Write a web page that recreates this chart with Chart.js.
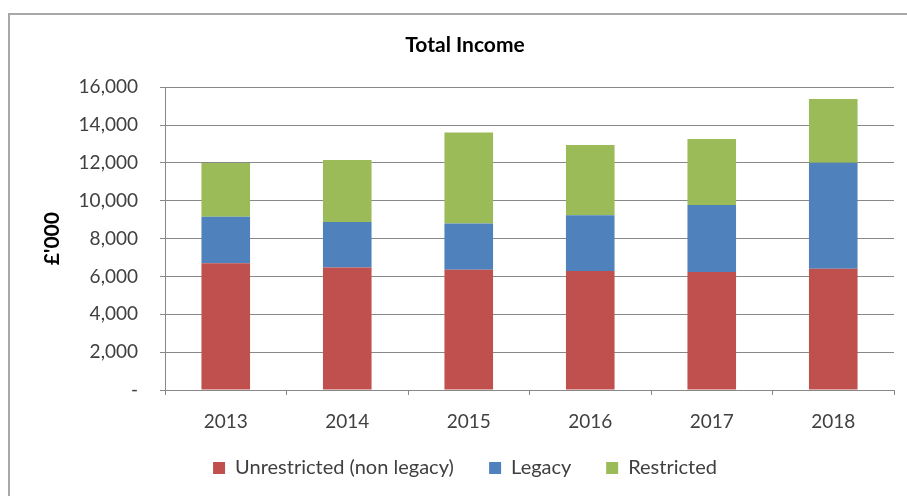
<!DOCTYPE html>
<html>
<head>
<meta charset="utf-8">
<title>Total Income</title>
<script src="https://cdn.jsdelivr.net/npm/chart.js@4.4.1/dist/chart.umd.min.js"></script>
<style>
  html, body { margin: 0; padding: 0; background: #fff; overflow: hidden; }
  #frame {
    position: absolute; left: 8px; top: 13px;
    width: 930px; height: 520px;
    border: 2px solid #a8a8a8;
    background: #fff;
  }
  #incomeChart { display: block; }
</style>
</head>
<body>
<div id="frame">
  <canvas id="incomeChart" width="910" height="473"></canvas>
</div>
<script>
// Income per year, £'000
const years = ['2013', '2014', '2015', '2016', '2017', '2018'];
const unrestricted = [6700, 6470, 6360, 6290, 6230, 6410];
const legacy = [2450, 2410, 2440, 2950, 3540, 5600];
const restricted = [2850, 3270, 4800, 3710, 3490, 3370];

const yMax = 16000;
const yStep = 2000;

const gridColor = '#888888';
const textColor = '#404040';
const fontFamily = 'Lato, "Open Sans", sans-serif';

// a little extra room after a legend entry (padding alone also pushes it down)
const legendGap = '\u00a0\u00a0';

function formatThousands(value) {
  if (value === 0) return '-';
  return value.toLocaleString('en-US');
}

const ctx = document.getElementById('incomeChart').getContext('2d');
new Chart(ctx, {
  type: 'bar',
  data: {
    labels: years,
    datasets: [
      { label: 'Unrestricted (non legacy)', data: unrestricted, backgroundColor: '#C0504D' },
      { label: 'Legacy', data: legacy, backgroundColor: '#4F81BD' },
      { label: 'Restricted', data: restricted, backgroundColor: '#9BBB59' }
    ]
  },
  options: {
    responsive: false,
    animation: false,
    layout: { padding: { left: 26, right: 26, top: 0, bottom: 0 } },
    datasets: {
      bar: { barPercentage: 0.4, categoryPercentage: 1.0 }
    },
    plugins: {
      title: {
        display: true,
        text: 'Total Income',
        color: '#000',
        font: { family: fontFamily, size: 21, weight: 'bold' },
        padding: { top: 18, bottom: 29 }
      },
      legend: {
        position: 'bottom',
        labels: {
          color: textColor,
          font: { family: fontFamily, size: 20 },
          boxWidth: 12,
          boxHeight: 12,
          padding: 25,
          generateLabels: chart => {
            const items = Chart.defaults.plugins.legend.labels.generateLabels(chart);
            items.forEach((item, i) => {
              if (i < items.length - 1) item.text += legendGap;
            });
            return items;
          }
        }
      },
      tooltip: { enabled: false }
    },
    scales: {
      x: {
        stacked: true,
        grid: { drawOnChartArea: false, drawTicks: true, tickLength: 5, color: gridColor },
        border: { color: gridColor, width: 1 },
        ticks: { color: textColor, font: { family: fontFamily, size: 19 }, padding: 15 },
        afterFit: scale => { scale.height = 43; }
      },
      y: {
        stacked: true,
        min: 0,
        max: yMax,
        grid: { color: gridColor, tickLength: 5 },
        border: { color: gridColor, width: 1 },
        ticks: {
          stepSize: yStep,
          color: textColor,
          font: { family: fontFamily, size: 19 },
          padding: 22,
          callback: value => formatThousands(value)
        },
        title: {
          display: true,
          text: "£'000",
          color: '#000',
          font: { family: fontFamily, size: 21, weight: 'bold' }
        },
        afterFit: scale => { scale.width = 129; }
      }
    }
  }
});
</script>
</body>
</html>
